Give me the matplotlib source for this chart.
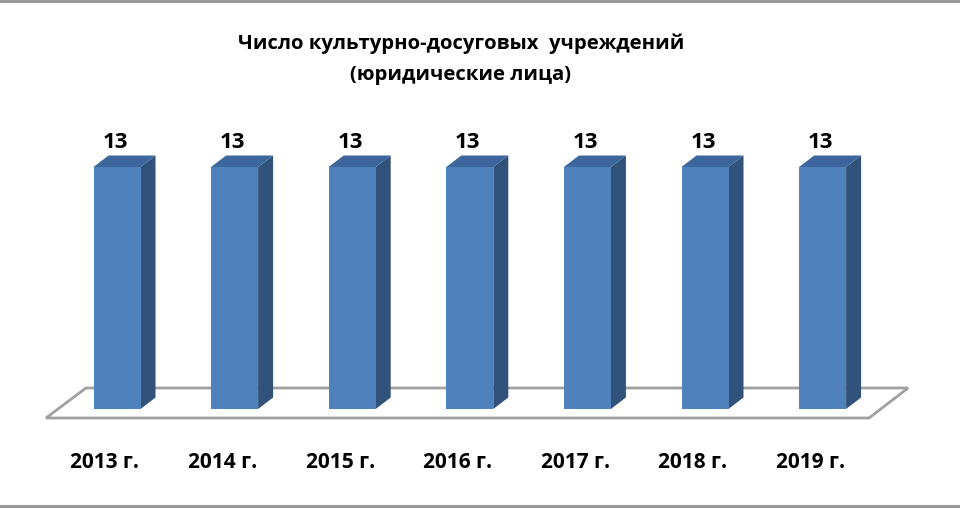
import matplotlib.pyplot as plt
from matplotlib.patches import Polygon
from matplotlib.lines import Line2D

years = ["2013 г.", "2014 г.", "2015 г.", "2016 г.", "2017 г.", "2018 г.", "2019 г."]
counts = [13, 13, 13, 13, 13, 13, 13]
title = "Число культурно-досуговых  учреждений\n(юридические лица)"

front_col = "#4F81BD"
side_col = "#31527A"
top_col = "#3D679C"

plt.rcParams['font.family'] = ['Open Sans', 'DejaVu Sans']

fig = plt.figure(figsize=(9.6, 5.1), dpi=100)
ax = fig.add_axes([0, 0, 1, 1])
ax.axis('off')

# pixel scale of the plot area
xpx = 117.6
ypx = 242 / 13.0
ax.set_xlim(-117 / xpx, (960 - 117) / xpx)
ax.set_ylim(-(510 - 410) / ypx, 410 / ypx)

# 3d depth of a bar
ddx = 15 / xpx
ddy = 11.5 / ypx
w = 47 / xpx

# floor
fy0 = -9 / ypx
fy1 = 21 / ypx
floor = Polygon([(-0.604, fy0), (6.395, fy0), (6.727, fy1), (-0.264, fy1)],
                closed=True, facecolor='white', edgecolor='#A0A0A0', lw=2, zorder=1)
ax.add_patch(floor)

xs = list(range(len(years)))
ax.bar(xs, counts, width=w, color=front_col, zorder=3, linewidth=0)
for x, v in zip(xs, counts):
    r = x + w / 2
    l = x - w / 2
    side = Polygon([(r, 0), (r + ddx, ddy), (r + ddx, v + ddy), (r, v)],
                   closed=True, facecolor=side_col, edgecolor='none', zorder=2)
    top = Polygon([(l, v), (r, v), (r + ddx, v + ddy), (l + ddx, v + ddy)],
                  closed=True, facecolor=top_col, edgecolor='none', zorder=2)
    ax.add_patch(side)
    ax.add_patch(top)
    ax.annotate(str(v), (x, v), xytext=(-2, 25), textcoords='offset pixels',
                ha='center', va='center', fontsize=16, fontweight='bold', color='black')
    ax.annotate(years[x], (x, 0), xytext=(-12, -53), textcoords='offset pixels',
                ha='center', va='center', fontsize=15, fontweight='bold', color='black')

fig.text(461 / 960, 1 - 59 / 510, title, ha='center', va='center', fontsize=14.6,
         fontweight='bold', linespacing=1.75)

fig.add_artist(Line2D([0, 1], [1 - 1.5 / 510, 1 - 1.5 / 510], color='#9A9A9A', lw=2.2))
fig.add_artist(Line2D([0, 1], [1 - 507 / 510, 1 - 507 / 510], color='#9A9A9A', lw=2.2))

plt.savefig("out.png", dpi=100)
